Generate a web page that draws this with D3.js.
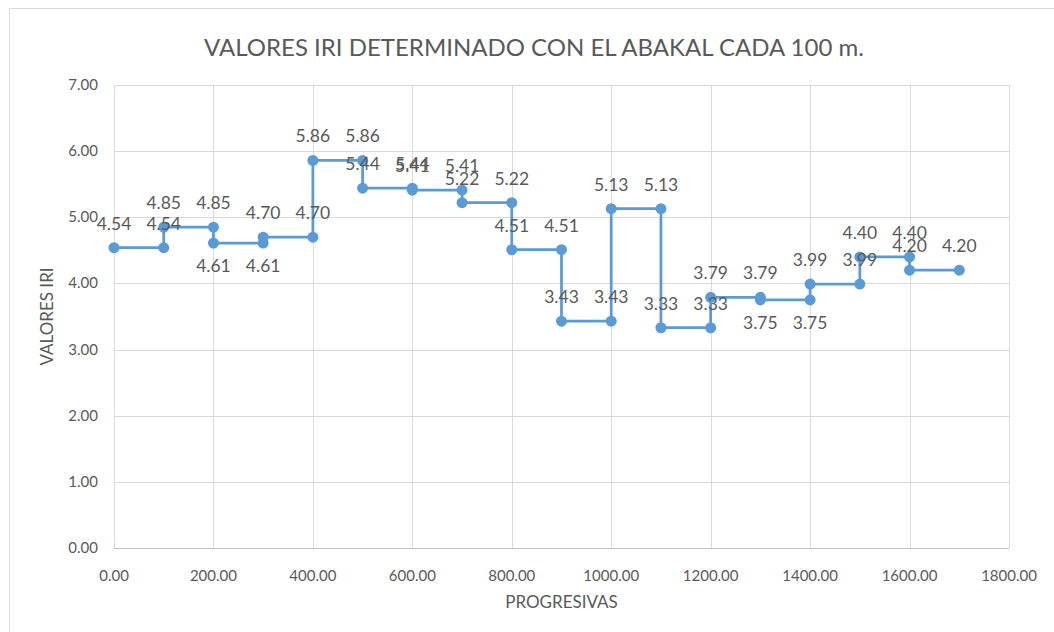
<!DOCTYPE html>
<html>
<head>
<meta charset="utf-8">
<script src="https://cdn.jsdelivr.net/npm/d3@7"></script>
<style>
  body { margin: 0; background: #fff; }
  svg text { font-family: Lato, "Open Sans", sans-serif; }
</style>
</head>
<body>
<svg id="chart" width="1054" height="632"></svg>
<script>
// progresivas (m) and IRI values, step-wise pairs
var progresivas = [0, 100, 100, 200, 200, 300, 300, 400, 400, 500, 500, 600, 600, 700, 700, 800, 800,
                   900, 900, 1000, 1000, 1100, 1100, 1200, 1200, 1300, 1300, 1400, 1400, 1500, 1500, 1600, 1600, 1700];
var iriValues = [4.54, 4.54, 4.85, 4.85, 4.61, 4.61, 4.70, 4.70, 5.86, 5.86, 5.44, 5.44, 5.41, 5.41, 5.22, 5.22, 4.51,
                 4.51, 3.43, 3.43, 5.13, 5.13, 3.33, 3.33, 3.79, 3.79, 3.75, 3.75, 3.99, 3.99, 4.40, 4.40, 4.20, 4.20];
// where each data label sits (a = above, b = below)
var labelSide = ["a", "a", "a", "a", "b", "b", "a", "a", "a", "a", "a", "a", "a", "a", "a", "a", "a",
                 "a", "a", "a", "a", "a", "a", "a", "a", "a", "b", "b", "a", "a", "a", "a", "a", "a"];
var xTicks = [0, 200, 400, 600, 800, 1000, 1200, 1400, 1600, 1800];
var yTicks = [0, 1, 2, 3, 4, 5, 6, 7];

var data = progresivas.map(function(p, i) {
    return { x: p, y: iriValues[i], side: labelSide[i] };
});

var svg = d3.select("#chart");
var margin = { top: 85, left: 114, right: 45, bottom: 84 };
var width = 1054 - margin.left - margin.right;
var height = 632 - margin.top - margin.bottom;

// outer chart frame
svg.append("path")
    .attr("d", "M9.5,632 V8.5 H1054")
    .attr("fill", "none")
    .attr("stroke", "#d9d9d9")
    .attr("stroke-width", 1);

svg.append("text")
    .attr("x", 534)
    .attr("y", 56)
    .attr("text-anchor", "middle")
    .attr("font-size", 24)
    .attr("fill", "#595959")
    .text("VALORES IRI DETERMINADO CON EL ABAKAL CADA 100 m.");

var g = svg.append("g")
    .attr("transform", "translate(" + margin.left + "," + margin.top + ")");

var x = d3.scaleLinear().domain([0, 1800]).range([0, width]);
var y = d3.scaleLinear().domain([0, 7]).range([height, 0]);

// gridlines
g.selectAll(".hgrid").data(yTicks).enter().append("line")
    .attr("x1", 0).attr("x2", width)
    .attr("y1", function(d) { return Math.round(y(d)) + 0.5; })
    .attr("y2", function(d) { return Math.round(y(d)) + 0.5; })
    .attr("stroke", "#d9d9d9");
g.selectAll(".vgrid").data(xTicks).enter().append("line")
    .attr("y1", 0).attr("y2", height)
    .attr("x1", function(d) { return Math.round(x(d)) + 0.5; })
    .attr("x2", function(d) { return Math.round(x(d)) + 0.5; })
    .attr("stroke", "#d9d9d9");

// x axis line
g.append("line")
    .attr("x1", 0).attr("x2", width)
    .attr("y1", height + 0.5).attr("y2", height + 0.5)
    .attr("stroke", "#bfbfbf");

// tick labels
g.selectAll(".xlab").data(xTicks).enter().append("text")
    .attr("x", function(d) { return x(d); })
    .attr("y", height + 33)
    .attr("text-anchor", "middle")
    .attr("font-size", 15)
    .attr("fill", "#595959")
    .text(function(d) { return d.toFixed(2); });

g.selectAll(".ylab").data(yTicks).enter().append("text")
    .attr("x", -16)
    .attr("y", function(d) { return y(d) + 5; })
    .attr("text-anchor", "end")
    .attr("font-size", 15)
    .attr("fill", "#595959")
    .text(function(d) { return d.toFixed(2); });

// axis titles
svg.append("text")
    .attr("x", margin.left + width / 2)
    .attr("y", 608)
    .attr("text-anchor", "middle")
    .attr("font-size", 17)
    .attr("fill", "#595959")
    .text("PROGRESIVAS");

svg.append("text")
    .attr("transform", "translate(53," + (margin.top + height / 2) + ") rotate(-90)")
    .attr("text-anchor", "middle")
    .attr("font-size", 17)
    .attr("fill", "#595959")
    .text("VALORES IRI");

// line
var line = d3.line()
    .x(function(d) { return x(d.x); })
    .y(function(d) { return y(d.y); });

g.append("path")
    .datum(data)
    .attr("fill", "none")
    .attr("stroke", "#5b9bd5")
    .attr("stroke-width", 2.75)
    .attr("stroke-linejoin", "round")
    .attr("d", line);

g.selectAll(".pt").data(data).enter().append("circle")
    .attr("cx", function(d) { return x(d.x); })
    .attr("cy", function(d) { return y(d.y); })
    .attr("r", 5.5)
    .attr("fill", "#5b9bd5");

// data labels
g.selectAll(".dlab").data(data).enter().append("text")
    .attr("x", function(d) { return x(d.x); })
    .attr("y", function(d) { return d.side == "a" ? y(d.y) - 18 : y(d.y) + 29; })
    .attr("text-anchor", "middle")
    .attr("font-size", 17.5)
    .attr("fill", "#595959")
    .text(function(d) { return d.y.toFixed(2); });
</script>
</body>
</html>
